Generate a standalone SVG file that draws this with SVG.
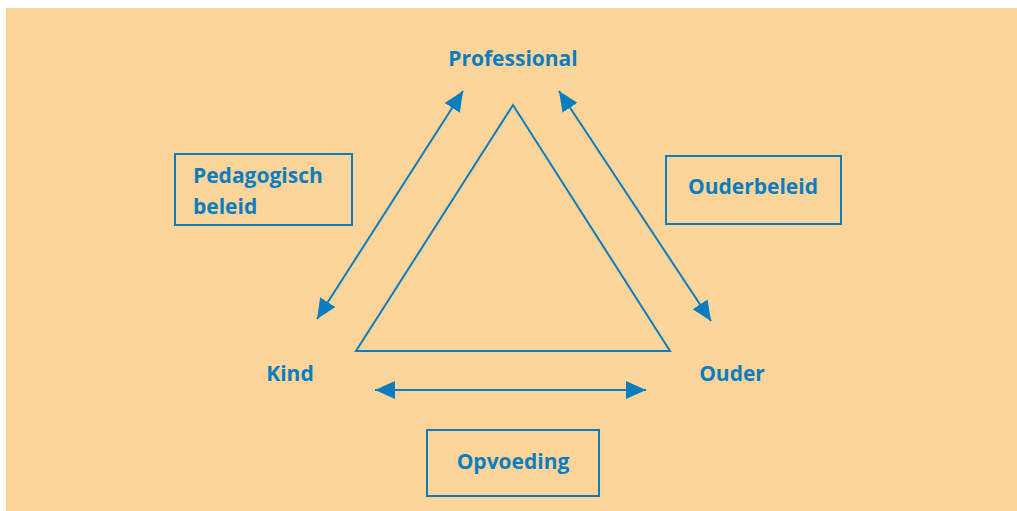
<svg xmlns="http://www.w3.org/2000/svg" width="1017" height="511" viewBox="0 0 1017 511">
<style>
.t{font-family:"Open Sans",Lato,sans-serif;font-weight:bold;font-size:21px;fill:#0A7DBF}
.box{fill:none;stroke:#0A7DBF;stroke-width:2}
.c{stroke:#0A7DBF;stroke-width:2;fill:none}
</style>
<defs>
<marker id="ah" viewBox="0 0 20 18" refX="20" refY="9" markerWidth="20" markerHeight="18" markerUnits="userSpaceOnUse" orient="auto-start-reverse">
<path d="M0,0 L20,9 L0,18 Z" fill="#0A7DBF"/>
</marker>
</defs>
<rect x="6" y="8" width="1011" height="503" fill="#FDD49A"/>
<g id="triangle"><polygon points="513,105 356,351 670,351" class="c"/></g>
<g id="connectors">
<line x1="463" y1="91" x2="317" y2="319" class="c" marker-start="url(#ah)" marker-end="url(#ah)"/>
<line x1="559" y1="91" x2="711" y2="321" class="c" marker-start="url(#ah)" marker-end="url(#ah)"/>
<line x1="375" y1="390" x2="646" y2="390" class="c" marker-start="url(#ah)" marker-end="url(#ah)"/>
</g>
<g id="professional"><text class="t" x="513" y="66" text-anchor="middle">Professional</text></g>
<g id="kind"><text class="t" x="290" y="381" text-anchor="middle">Kind</text></g>
<g id="ouder"><text class="t" x="732" y="381" text-anchor="middle">Ouder</text></g>
<g id="pedagogisch"><rect x="175" y="154" width="177" height="71" class="box"/><text class="t" x="193" y="183">Pedagogisch</text><text class="t" x="193" y="214">beleid</text></g>
<g id="ouderbeleid"><rect x="666" y="156" width="175" height="68" class="box"/><text class="t" x="753" y="194" text-anchor="middle">Ouderbeleid</text></g>
<g id="opvoeding"><rect x="427" y="430" width="172" height="66" class="box"/><text class="t" x="513" y="469" text-anchor="middle">Opvoeding</text></g>
</svg>
